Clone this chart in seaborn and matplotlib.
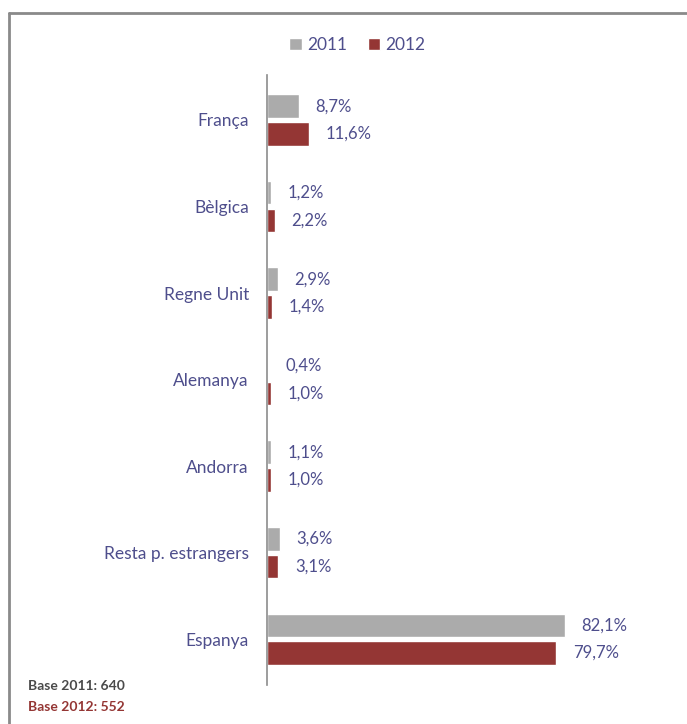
import pandas as pd
import matplotlib.pyplot as plt
import matplotlib.lines as mlines
import seaborn as sns

# =============================================================================
# Data
# =============================================================================
countries = ['França', 'Bèlgica', 'Regne Unit', 'Alemanya', 'Andorra',
             'Resta p. estrangers', 'Espanya']
vals_2011 = [8.7, 1.2, 2.9, 0.4, 1.1, 3.6, 82.1]
vals_2012 = [11.6, 2.2, 1.4, 1.0, 1.0, 3.1, 79.7]
years = ['2011', '2012']

df = pd.DataFrame({
    'pais': countries * 2,
    'valor': vals_2011 + vals_2012,
    'any': [years[0]] * len(countries) + [years[1]] * len(countries),
})

grey = '#ababab'
red = '#943634'
txt = '#4e4e8c'

sns.set_theme(style='white')
plt.rcParams['font.family'] = ['Lato', 'DejaVu Sans']

fig = plt.figure(figsize=(6.87, 7.24), dpi=100)
ax = fig.add_axes([267 / 687, 39 / 724, 0.97 - 267 / 687, 610 / 724])

sns.barplot(data=df, y='pais', x='valor', hue='any', orient='h',
            palette=[grey, red], width=0.64, gap=0.15, ax=ax,
            order=countries, hue_order=years, saturation=1)

ax.set_xlim(0, (0.97 * 687 - 267) / 3.63)
ax.set_ylim(6.53, -0.52)

# value labels
for cont in ax.containers:
    labs = [f'{v:.1f}%'.replace('.', ',') for v in cont.datavalues]
    ax.bar_label(cont, labels=labs, padding=12, fontsize=12, color=txt)

ax.set_xlabel('')
ax.set_ylabel('')
ax.set_xticks([])
ax.tick_params(axis='y', length=0, pad=13, labelsize=12.5, labelcolor=txt)
for s in ['top', 'right', 'bottom']:
    ax.spines[s].set_visible(False)
ax.spines['left'].set_color('#8c8c8c')
ax.spines['left'].set_linewidth(1.2)

# legend
leg = ax.legend(loc='center', bbox_to_anchor=(0.52, 0.938),
                bbox_transform=fig.transFigure, ncol=2, frameon=False,
                handlelength=0.7, handleheight=0.7, handletextpad=0.3,
                columnspacing=1.2, fontsize=12.5)
for t in leg.get_texts():
    t.set_color(txt)

# base notes
fig.text(28 / 687, 1 - 686 / 724, 'Base 2011: 640', fontsize=10,
         fontweight='bold', color='#4a4a4a', va='center')
fig.text(28 / 687, 1 - 707 / 724, 'Base 2012: 552', fontsize=10,
         fontweight='bold', color=red, va='center')

# frame (top and left only)
fig.add_artist(mlines.Line2D([9 / 687, 1], [1 - 13 / 724, 1 - 13 / 724],
                             color='#8a8a8a', linewidth=2,
                             transform=fig.transFigure))
fig.add_artist(mlines.Line2D([9 / 687, 9 / 687], [0, 1 - 13 / 724],
                             color='#8a8a8a', linewidth=2,
                             transform=fig.transFigure))

plt.savefig('out.png', dpi=100)
